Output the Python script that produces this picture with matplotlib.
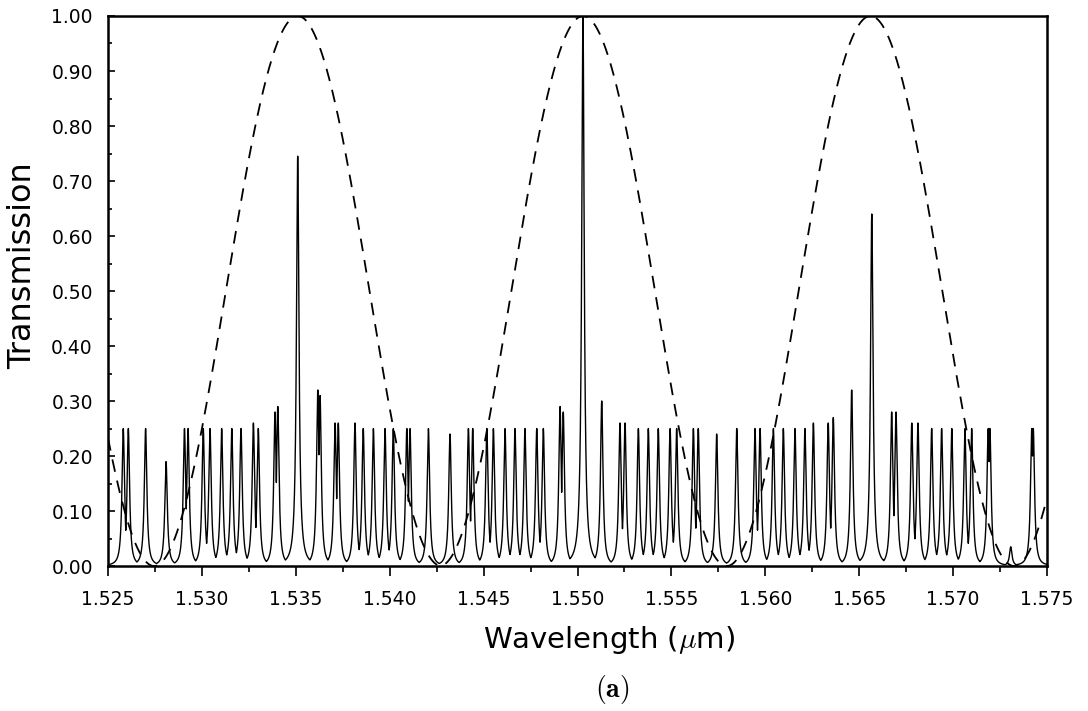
#!/usr/bin/env python3
"""
Transmission spectrum of the cascaded filter with the Vernier envelope (dashed).
Writes out.png.
"""

import matplotlib
matplotlib.use("Agg")
import matplotlib.pyplot as plt
import numpy as np
from matplotlib.ticker import MultipleLocator, FormatStrFormatter


# comb resonances: wavelength (um) and peak transmission
PEAK_WAVELENGTHS = [
    1.52581, 1.52608, 1.52700, 1.52809, 1.52907, 1.52926, 1.53007, 1.53043,
    1.53105, 1.53159, 1.53208, 1.53274, 1.53300, 1.53389, 1.53404, 1.53510,
    1.53617, 1.53629, 1.53709, 1.53726, 1.53815, 1.53859, 1.53913, 1.53975,
    1.54019, 1.54091, 1.54108, 1.54206, 1.54321, 1.54419, 1.54442, 1.54517,
    1.54552, 1.54614, 1.54667, 1.54720, 1.54783, 1.54818, 1.54907, 1.54924,
    1.55029, 1.55129, 1.55226, 1.55253, 1.55324, 1.55377, 1.55430, 1.55493,
    1.55528, 1.55617, 1.55643, 1.55741, 1.55848, 1.55945, 1.55972, 1.56043,
    1.56096, 1.56158, 1.56211, 1.56256, 1.56335, 1.56362, 1.56460, 1.56567,
    1.56673, 1.56696, 1.56780, 1.56813, 1.56886, 1.56939, 1.56993, 1.57063,
    1.57099, 1.57187, 1.57196, 1.57307, 1.57419, 1.57427,
]
PEAK_HEIGHTS = [
    0.25, 0.25, 0.25, 0.19, 0.25, 0.25, 0.25, 0.25,
    0.25, 0.25, 0.25, 0.26, 0.25, 0.28, 0.29, 0.745,
    0.32, 0.31, 0.26, 0.26, 0.26, 0.25, 0.25, 0.25,
    0.25, 0.25, 0.25, 0.25, 0.24, 0.25, 0.25, 0.25,
    0.25, 0.25, 0.25, 0.25, 0.25, 0.25, 0.29, 0.28,
    1.00, 0.30, 0.26, 0.26, 0.25, 0.25, 0.25, 0.25,
    0.25, 0.25, 0.25, 0.24, 0.25, 0.25, 0.25, 0.25,
    0.25, 0.25, 0.25, 0.26, 0.26, 0.27, 0.32, 0.64,
    0.28, 0.28, 0.26, 0.26, 0.25, 0.25, 0.25, 0.25,
    0.25, 0.25, 0.25, 0.035, 0.25, 0.25,
]
PEAK_HALF_WIDTH = 0.00008  # um, Lorentzian HWHM

# envelope lobes of the coarse filter (um)
ENVELOPE_CENTERS = [1.5198, 1.5351, 1.5503, 1.5656, 1.5809]
ENVELOPE_PERIOD = 0.0153

X_TICKS = [1.525, 1.530, 1.535, 1.540, 1.545, 1.550, 1.555, 1.560, 1.565, 1.570, 1.575]
Y_TICKS = [0.0, 0.1, 0.2, 0.3, 0.4, 0.5, 0.6, 0.7, 0.8, 0.9, 1.0]


def comb_response(wl):
    centers = np.asarray(PEAK_WAVELENGTHS)[:, None]
    heights = np.asarray(PEAK_HEIGHTS)[:, None]
    u = (wl[None, :] - centers) / PEAK_HALF_WIDTH
    return (heights / (1.0 + u ** 2)).max(axis=0)


def envelope_response(wl):
    centers = np.asarray(ENVELOPE_CENTERS)[:, None]
    dist = np.abs(wl[None, :] - centers).min(axis=0)
    return np.cos(np.pi * dist / ENVELOPE_PERIOD) ** 2


def main():
    plt.rcParams["font.family"] = "DejaVu Sans"
    plt.rcParams["mathtext.fontset"] = "cm"

    wl = np.linspace(X_TICKS[0], X_TICKS[-1], 60000)

    fig = plt.figure(figsize=(10.88, 7.11), dpi=100)
    ax = fig.add_axes([0.0993, 0.2039, 0.8630, 0.7736])

    ax.plot(wl, comb_response(wl), color="black", lw=1.0)
    ax.plot(wl, envelope_response(wl), color="black", lw=1.3, dashes=(7, 5))

    ax.set_xlim(X_TICKS[0], X_TICKS[-1])
    ax.set_ylim(Y_TICKS[0], Y_TICKS[-1])
    ax.set_xticks(X_TICKS)
    ax.set_yticks(Y_TICKS)
    ax.xaxis.set_minor_locator(MultipleLocator(0.0025))
    ax.yaxis.set_minor_locator(MultipleLocator(0.05))
    ax.xaxis.set_major_formatter(FormatStrFormatter("%.3f"))
    ax.yaxis.set_major_formatter(FormatStrFormatter("%.2f"))

    ax.tick_params(axis="x", which="both", direction="out", labelsize=13.5,
                   pad=10, width=1.2)
    ax.tick_params(axis="x", which="major", length=7)
    ax.tick_params(axis="x", which="minor", length=4.5)
    ax.tick_params(axis="y", which="both", direction="in", labelsize=13.5,
                   pad=11, width=1.2)
    ax.tick_params(axis="y", which="major", length=5)
    ax.tick_params(axis="y", which="minor", length=3)

    for spine in ax.spines.values():
        spine.set_linewidth(1.8)

    fig.text(0.021, 0.627, "Transmission", rotation=90, fontsize=23,
             ha="center", va="center")
    fig.text(0.560, 0.100, r"Wavelength ($\mu$m)", fontsize=21,
             ha="center", va="center")
    fig.text(0.563, 0.030, r"$\mathbf{(a)}$", fontsize=20,
             ha="center", va="center")

    fig.savefig("out.png", dpi=100)
    plt.close(fig)


if __name__ == "__main__":
    main()
